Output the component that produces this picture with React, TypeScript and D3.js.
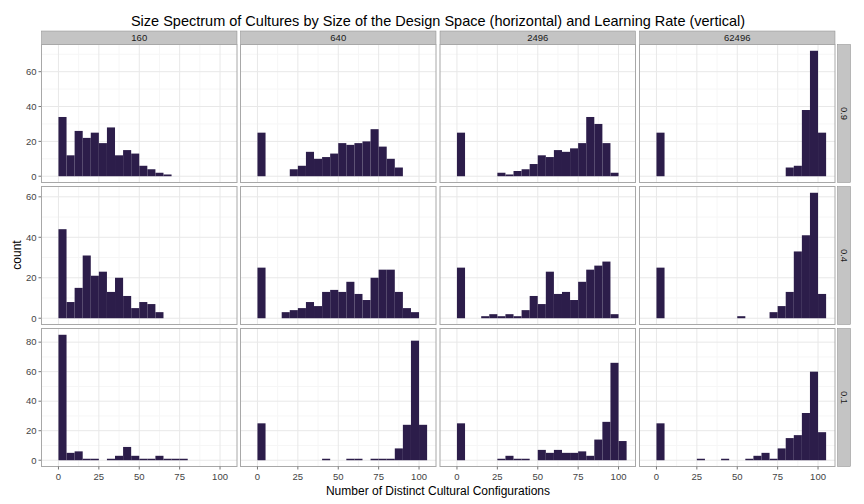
import React from 'react';
import * as d3 from 'd3';

// column facets (size of design space) and row facets (learning rate)
const columns = ['160', '640', '2496', '62496'];
const rows = ['0.9', '0.4', '0.1'];
const binWidth = 5;
const xTicks = [0, 25, 50, 75, 100];

// counts per bin, bin i covers [5i, 5i + 5)
const counts: number[][][] = [
  [
    [34, 12, 26, 22, 25, 19, 28, 12, 15, 13, 6, 4, 2, 1],
    [25, 0, 0, 0, 4, 6, 14, 10, 11, 13, 19, 18, 19, 20, 27, 17, 10, 5],
    [25, 0, 0, 0, 0, 2, 1, 3, 4, 7, 12, 11, 15, 14, 16, 19, 34, 30, 19, 2],
    [25, 0, 0, 0, 0, 0, 0, 0, 0, 0, 0, 0, 0, 0, 0, 0, 5, 6, 38, 72, 25],
  ],
  [
    [44, 8, 15, 31, 21, 23, 13, 20, 11, 5, 8, 7, 3],
    [25, 0, 0, 3, 4, 5, 8, 6, 13, 14, 13, 18, 12, 9, 20, 24, 24, 13, 5, 3],
    [25, 0, 0, 1, 2, 1, 2, 1, 4, 11, 7, 23, 12, 13, 9, 18, 24, 26, 28, 2],
    [25, 0, 0, 0, 0, 0, 0, 0, 0, 0, 1, 0, 0, 0, 3, 6, 13, 33, 41, 62, 12],
  ],
  [
    [85, 5, 6, 1, 1, 0, 1, 3, 9, 3, 1, 1, 3, 1, 1, 1],
    [25, 0, 0, 0, 0, 0, 0, 0, 1, 0, 0, 1, 1, 0, 1, 1, 1, 8, 24, 81, 24],
    [25, 0, 0, 0, 0, 1, 3, 1, 1, 0, 7, 5, 7, 5, 5, 6, 3, 14, 26, 66, 13],
    [25, 0, 0, 0, 0, 1, 0, 0, 1, 0, 0, 1, 3, 5, 1, 8, 15, 17, 32, 60, 19],
  ],
];
const yMax = [75.6, 65.1, 89.25];
const yMin = [-3.6, -3.1, -4.25];
const yTicks = [[0, 20, 40, 60], [0, 20, 40, 60], [0, 20, 40, 60, 80]];

const W = 864;
const H = 504;
const panelLefts = [41.5, 240.5, 440, 639.5];
const panelW = 195.5;
const panelTops = [44.5, 186.5, 328.5];
const panelH = 138;
const stripTop = 31;
const stripRight = 837.5;
const font = 'Liberation Sans, Arial, sans-serif';
const barColor = '#2c1d4a';

const App: React.FC = () => {
  const x = d3.scaleLinear().domain([-10.5, 110.5]).range([0, panelW]);
  const xMinor = [-12.5, 12.5, 37.5, 62.5, 87.5, 112.5].filter(v => v > -10.5 && v < 110.5);
  return (
    <svg width={W} height={H} style={{ display: 'block', position: 'absolute', left: 0, top: 0 }} fontFamily={font}>
      <rect width={W} height={H} fill="#fff" />
      <text x={438} y={26} textAnchor="middle" fontSize={14.5}>
        Size Spectrum of Cultures by Size of the Design Space (horizontal) and Learning Rate (vertical)
      </text>
      {columns.map((c, ci) => (
        <g key={c} transform={`translate(${panelLefts[ci]},${stripTop})`}>
          <rect width={panelW} height={panelTops[0] - stripTop} fill="#c4c4c4" stroke="#8a8a8a" strokeWidth={0.5} />
          <text x={panelW / 2} y={10} textAnchor="middle" fontSize={9.5} fill="#1a1a1a">{c}</text>
        </g>
      ))}
      {rows.map((r, ri) => {
        const y = d3.scaleLinear().domain([yMin[ri], yMax[ri]]).range([panelH, 0]);
        const ticks = yTicks[ri];
        const minor = d3.range(-10, yMax[ri], 10).filter(v => v % 20 !== 0 && v > yMin[ri]);
        return (
          <g key={r}>
            <g transform={`translate(${stripRight},${panelTops[ri]})`}>
              <rect width={13} height={panelH} fill="#c4c4c4" stroke="#8a8a8a" strokeWidth={0.5} />
              <text transform={`translate(3.5,${panelH / 2}) rotate(90)`} textAnchor="middle" fontSize={9.5} fill="#1a1a1a">{r}</text>
            </g>
            {ticks.map(t => (
              <g key={t}>
                <line x1={panelLefts[0] - 3} x2={panelLefts[0]} y1={panelTops[ri] + y(t)} y2={panelTops[ri] + y(t)} stroke="#777" />
                <text x={panelLefts[0] - 5} y={panelTops[ri] + y(t) + 3.3} textAnchor="end" fontSize={9.5} fill="#444">{t}</text>
              </g>
            ))}
            {columns.map((c, ci) => (
              <g key={c} transform={`translate(${panelLefts[ci]},${panelTops[ri]})`}>
                <rect width={panelW} height={panelH} fill="#fff" />
                {minor.map(v => <line key={'my' + v} x1={0} x2={panelW} y1={y(v)} y2={y(v)} stroke="#f6f6f6" />)}
                {xMinor.map(v => <line key={'mx' + v} x1={x(v)} x2={x(v)} y1={0} y2={panelH} stroke="#f6f6f6" />)}
                {ticks.map(v => <line key={'y' + v} x1={0} x2={panelW} y1={y(v)} y2={y(v)} stroke="#e8e8e8" />)}
                {xTicks.map(v => <line key={'x' + v} x1={x(v)} x2={x(v)} y1={0} y2={panelH} stroke="#e8e8e8" />)}
                {counts[ri][ci].map((n, i) => n > 0 ? (
                  <rect key={i} x={x(i * binWidth)} width={x((i + 1) * binWidth) - x(i * binWidth)} y={y(n)} height={y(0) - y(n)} fill={barColor} />
                ) : null)}
                <rect width={panelW} height={panelH} fill="none" stroke="#a8a8a8" strokeWidth={1} />
              </g>
            ))}
          </g>
        );
      })}
      {columns.map((c, ci) => (
        <g key={c} transform={`translate(${panelLefts[ci]},${panelTops[2] + panelH})`}>
          {xTicks.map(t => (
            <g key={t}>
              <line x1={x(t)} x2={x(t)} y1={0} y2={3} stroke="#777" />
              <text x={x(t)} y={13} textAnchor="middle" fontSize={9.5} fill="#444">{t}</text>
            </g>
          ))}
        </g>
      ))}
      <text x={438} y={495} textAnchor="middle" fontSize={12}>Number of Distinct Cultural Configurations</text>
      <text transform={`translate(21,255) rotate(-90)`} textAnchor="middle" fontSize={12}>count</text>
    </svg>
  );
};

export default App;
